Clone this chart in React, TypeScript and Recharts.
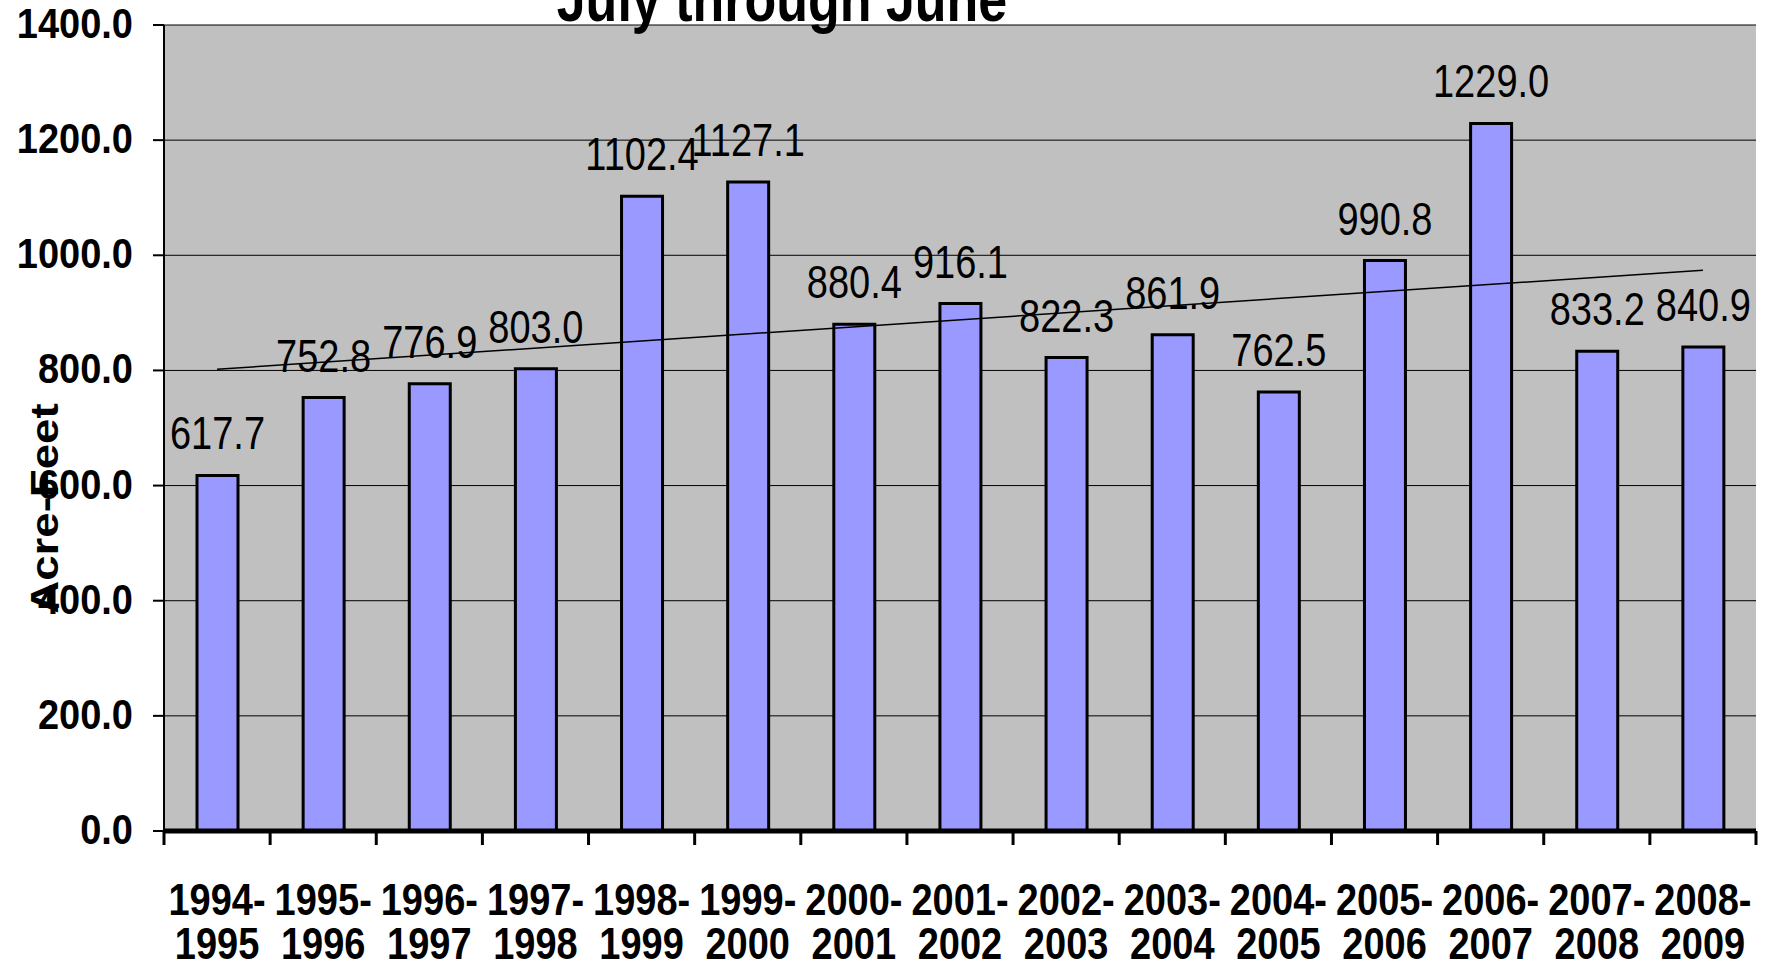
import React from 'react';
import {
  BarChart,
  Bar,
  XAxis,
  YAxis,
  CartesianGrid,
  ReferenceLine,
  LabelList,
} from 'recharts';

const periods = [
  '1994-1995', '1995-1996', '1996-1997', '1997-1998', '1998-1999',
  '1999-2000', '2000-2001', '2001-2002', '2002-2003', '2003-2004',
  '2004-2005', '2005-2006', '2006-2007', '2007-2008', '2008-2009',
];
const acreFeet = [
  617.7, 752.8, 776.9, 803.0, 1102.4, 1127.1, 880.4, 916.1,
  822.3, 861.9, 762.5, 990.8, 1229.0, 833.2, 840.9,
];
const yTicks = [0, 200, 400, 600, 800, 1000, 1200, 1400];
// linear trend line at the first and last bar
const trendStart = 802;
const trendEnd = 974;

const data = periods.map((period, i) => ({ period, value: acreFeet[i] }));

const FONT = '"Liberation Sans", Arial, sans-serif';
const W = 1771;
const H = 967;

const XTick = (props: any) => {
  const { x, y, payload } = props;
  const half = payload?.offset || 53;
  const [from, to] = String(payload.value).split('-');
  const last = payload.index === periods.length - 1;
  return (
    <g>
      <line x1={x - half} x2={x - half} y1={y} y2={y + 14} stroke="#000" strokeWidth={3} />
      {last && <line x1={x + half} x2={x + half} y1={y} y2={y + 14} stroke="#000" strokeWidth={3} />}
      <text
        transform={`translate(${x},${y + 84}) scale(1,1.18)`}
        textAnchor="middle"
        fontFamily={FONT}
        fontWeight="bold"
        fontSize={38}
        fill="#000"
      >
        {from}-
      </text>
      <text
        transform={`translate(${x},${y + 128}) scale(1,1.18)`}
        textAnchor="middle"
        fontFamily={FONT}
        fontWeight="bold"
        fontSize={38}
        fill="#000"
      >
        {to}
      </text>
    </g>
  );
};

const YTick = (props: any) => {
  const { x, y, payload } = props;
  return (
    <text
      transform={`translate(${x},${y + 13}) scale(1,1.1)`}
      textAnchor="end"
      fontFamily={FONT}
      fontWeight="bold"
      fontSize={38}
      fill="#000"
    >
      {Number(payload.value).toFixed(1)}
    </text>
  );
};

const ValueLabel = (props: any) => {
  const x = Number(props.x) + Number(props.width) / 2;
  const y = Number(props.y) - 26;
  return (
    <text
      transform={`translate(${x},${y}) scale(1,1.2)`}
      textAnchor="middle"
      fontFamily={FONT}
      fontSize={38}
      fill="#000"
    >
      {Number(props.value).toFixed(1)}
    </text>
  );
};

const AxisTitle = (props: any) => {
  const vb = props.viewBox || { x: 0, y: 0, width: 0, height: 0 };
  const cx = vb.x + 45;
  const cy = vb.y + vb.height * 0.6;
  return (
    <text
      transform={`translate(${cx},${cy}) rotate(-90) scale(1.2,1)`}
      textAnchor="middle"
      dominantBaseline="central"
      fontFamily={FONT}
      fontWeight="bold"
      fontSize={38}
      fill="#000"
    >
      Acre-Feet
    </text>
  );
};

export default function App() {
  return (
    <div style={{ position: 'absolute', left: 0, top: 0, width: W, height: H, background: '#fff', overflow: 'hidden' }}>
      <BarChart width={W} height={H} data={data} margin={{ top: 25, right: 15, left: 0, bottom: 0 }}>
        <CartesianGrid vertical={false} stroke="#000" strokeWidth={1} fill="#C0C0C0" fillOpacity={1} />
        <XAxis
          dataKey="period"
          tick={<XTick />}
          tickLine={false}
          tickSize={0}
          tickMargin={0}
          interval={0}
          height={136}
          axisLine={{ stroke: '#000', strokeWidth: 5 }}
        />
        <XAxis
          xAxisId="frame"
          dataKey="period"
          orientation="top"
          height={0}
          tick={false}
          tickLine={false}
          axisLine={{ stroke: '#808080', strokeWidth: 3 }}
        />
        <YAxis
          domain={[0, 1400]}
          ticks={yTicks}
          width={164}
          tickSize={11}
          tickMargin={20}
          tick={<YTick />}
          tickLine={{ stroke: '#000', strokeWidth: 2 }}
          axisLine={{ stroke: '#000', strokeWidth: 2 }}
          label={<AxisTitle />}
        />
        <YAxis
          yAxisId="frame"
          orientation="right"
          width={0}
          tick={false}
          tickLine={false}
          axisLine={{ stroke: '#808080', strokeWidth: 4 }}
        />
        <Bar dataKey="value" fill="#9999FF" stroke="#000" strokeWidth={3} barSize={41} isAnimationActive={false}>
          <LabelList dataKey="value" content={<ValueLabel />} />
        </Bar>
        <ReferenceLine
          segment={[
            { x: periods[0], y: trendStart },
            { x: periods[periods.length - 1], y: trendEnd },
          ]}
          stroke="#000"
          strokeWidth={1.5}
          ifOverflow="visible"
        />
      </BarChart>
      <svg width={W} height={H} style={{ position: 'absolute', left: 0, top: 0, pointerEvents: 'none' }}>
        <text
          transform="translate(782,21) scale(1,1.2)"
          textAnchor="middle"
          fontFamily={FONT}
          fontWeight="bold"
          fontSize={52}
          fill="#000"
        >
          July through June
        </text>
      </svg>
    </div>
  );
}
